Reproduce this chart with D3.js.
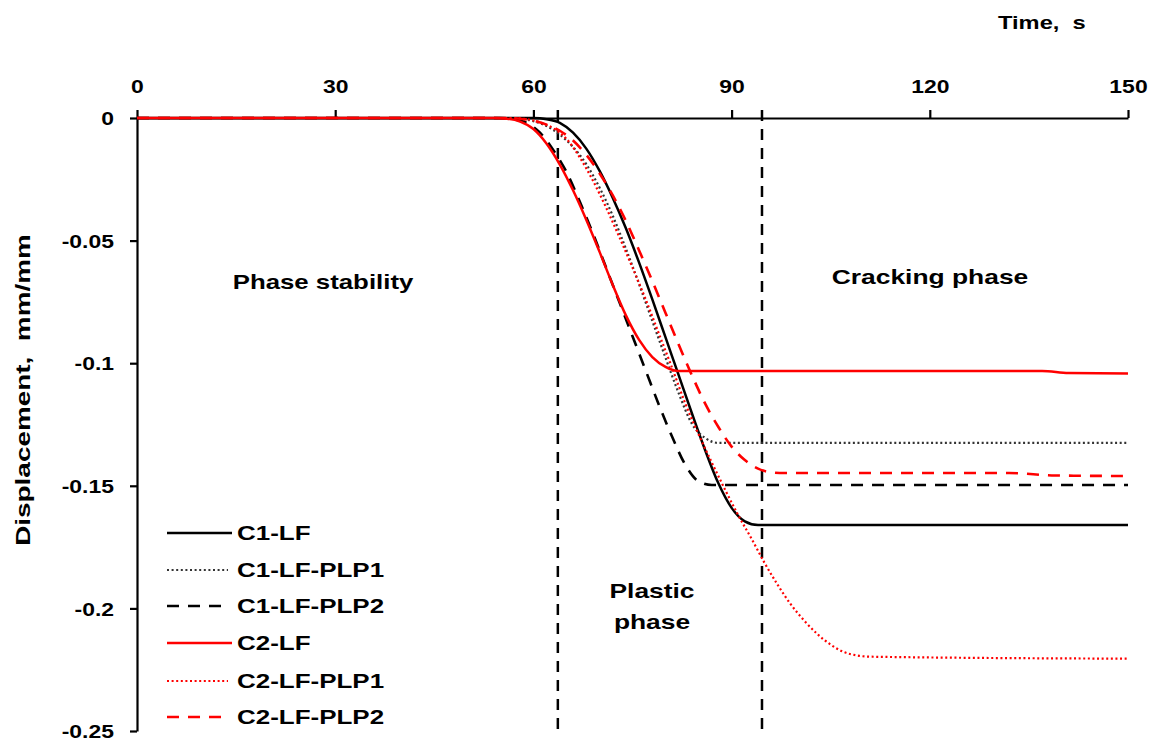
<!DOCTYPE html>
<html>
<head>
<meta charset="utf-8">
<script src="https://cdn.jsdelivr.net/npm/d3@7"></script>
<style>
  html, body { margin: 0; padding: 0; background: #fff; }
  svg { display: block; }
  text { font-family: "Liberation Sans", Arial, sans-serif; font-weight: bold; fill: #000; }
</style>
</head>
<body>
<svg id="chart" width="1161" height="742"></svg>
<script>
// ---------- data ----------
const xTicks = [0, 30, 60, 90, 120, 150];
const yTicks = [0, -0.05, -0.1, -0.15, -0.2, -0.25];
const yTickLabels = ["0", "-0.05", "-0.1", "-0.15", "-0.2", "-0.25"];
const seriesNames = ["C1-LF", "C1-LF-PLP1", "C1-LF-PLP2", "C2-LF", "C2-LF-PLP1", "C2-LF-PLP2"];

const c1lfT = [0, 55, 60, 62, 64, 66, 68, 70, 72, 74, 76, 78, 80, 82, 84, 86, 88, 90, 92, 94, 150];
const c1lfD = [0, 0, 0, -0.0005, -0.002, -0.006, -0.0125, -0.0215, -0.0325, -0.045, -0.059, -0.074, -0.0895, -0.105, -0.1205, -0.1355, -0.149, -0.159, -0.1645, -0.166, -0.166];

const c1plp1T = [0, 56, 58, 60, 62, 64, 66, 68, 70, 72, 74, 76, 78, 80, 82, 84, 86, 88, 150];
const c1plp1D = [0, 0, -0.0003, -0.0013, -0.0033, -0.0068, -0.0118, -0.0188, -0.0283, -0.0398, -0.0533, -0.0678, -0.0828, -0.0978, -0.1123, -0.1248, -0.1305, -0.1325, -0.1325];

const c1plp2T = [0, 55, 57, 59, 61, 63, 65, 67, 69, 71, 73, 75, 77, 79, 81, 83, 85, 87, 150];
const c1plp2D = [0, 0, -0.0005, -0.002, -0.006, -0.013, -0.022, -0.034, -0.047, -0.061, -0.075, -0.089, -0.103, -0.117, -0.130, -0.1415, -0.1482, -0.1497, -0.1497];

const c2lfT = [0, 54, 56, 58, 60, 62, 64, 66, 68, 70, 72, 74, 76, 78, 80, 82, 137, 141, 150];
const c2lfD = [0, 0, -0.0003, -0.0015, -0.0045, -0.0105, -0.019, -0.0295, -0.0415, -0.0545, -0.068, -0.0805, -0.0905, -0.0975, -0.1015, -0.1032, -0.1032, -0.104, -0.1042];

const c2plp1T = [0, 57, 59, 61, 63, 65, 67, 69, 71, 73, 75, 77, 79, 81, 83, 85, 87, 89, 91, 93, 95, 97, 99, 101, 103, 105, 107, 109, 111, 150];
const c2plp1D = [0, 0, -0.0005, -0.0018, -0.0042, -0.0085, -0.016, -0.0255, -0.0365, -0.0485, -0.061, -0.074, -0.088, -0.102, -0.1165, -0.129, -0.1405, -0.1515, -0.162, -0.1715, -0.1815, -0.1905, -0.1985, -0.205, -0.2105, -0.2148, -0.2178, -0.2192, -0.2197, -0.2205];

const c2plp2T = [0, 56, 58, 60, 62, 64, 66, 68, 70, 72, 74, 76, 78, 80, 82, 84, 86, 88, 90, 92, 94, 96, 98, 132, 139, 150];
const c2plp2D = [0, 0, -0.0003, -0.0011, -0.0027, -0.0052, -0.0092, -0.015, -0.0225, -0.0315, -0.042, -0.054, -0.0665, -0.0795, -0.0925, -0.105, -0.1165, -0.126, -0.134, -0.1395, -0.143, -0.1445, -0.1448, -0.1448, -0.1458, -0.146];

const phaseBoundaries = [63.7, 94.6];

// ---------- layout ----------
const svg = d3.select("#chart");
const x = d3.scaleLinear().domain([0, 150]).range([137, 1128]);
const y = d3.scaleLinear().domain([-0.25, 0]).range([731, 118]);
const SX = 1.3;  // horizontal text stretch to mimic the reference font
const TSX = 1.24;

const styles = [
  { color: "#000", width: 2.5, dash: null },
  { color: "#333", width: 2.2, dash: "2,2.6" },
  { color: "#000", width: 2.6, dash: "12,9" },
  { color: "#ff0000", width: 2.5, dash: null },
  { color: "#ff0000", width: 2.2, dash: "2,2.6" },
  { color: "#ff0000", width: 2.6, dash: "12,9" }
];
const seriesT = [c1lfT, c1plp1T, c1plp2T, c2lfT, c2plp1T, c2plp2T];
const seriesD = [c1lfD, c1plp1D, c1plp2D, c2lfD, c2plp1D, c2plp2D];

// ---------- axes ----------
const xAxis = svg.append("g")
  .attr("transform", `translate(0,${y(0)})`)
  .call(d3.axisTop(x).tickValues(xTicks).tickSize(8).tickSizeOuter(0).tickFormat(d3.format("d")));
xAxis.select(".domain").attr("stroke", "#000").attr("stroke-width", 2.2);
xAxis.selectAll(".tick line").attr("stroke", "#000").attr("stroke-width", 2.2);
xAxis.selectAll(".tick text")
  .attr("y", -25).attr("dy", "0").attr("font-size", 18.5)
  .attr("transform", `scale(${TSX},1)`);

const yAxis = svg.append("g")
  .attr("transform", `translate(${x(0)},0)`)
  .call(d3.axisLeft(y).tickValues(yTicks).tickSize(7).tickSizeOuter(0)
    .tickFormat((d, i) => yTickLabels[i]));
yAxis.select(".domain").attr("stroke", "#000").attr("stroke-width", 2.2);
yAxis.selectAll(".tick line").attr("stroke", "#000").attr("stroke-width", 2.2);
yAxis.selectAll(".tick text")
  .attr("x", -23 / TSX).attr("dy", "0.36em").attr("font-size", 18.5)
  .attr("transform", `scale(${TSX},1)`);
svg.selectAll(".tick text").attr("font-family", '"Liberation Sans", Arial, sans-serif').attr("font-weight", "bold");

// ---------- phase boundary lines ----------
svg.append("g").selectAll("line").data(phaseBoundaries).join("line")
  .attr("x1", d => x(d)).attr("x2", d => x(d))
  .attr("y1", y(0) - 8).attr("y2", y(-0.25) + 4)
  .attr("stroke", "#000").attr("stroke-width", 2.5)
  .attr("stroke-dasharray", "11,8");

// ---------- series ----------
const line = d3.line().x(d => x(d[0])).y(d => y(d[1])).curve(d3.curveMonotoneX);
seriesNames.forEach((name, i) => {
  const pts = seriesT[i].map((t, k) => [t, seriesD[i][k]]);
  svg.append("path").datum(pts)
    .attr("d", line)
    .attr("fill", "none")
    .attr("stroke", styles[i].color)
    .attr("stroke-width", styles[i].width)
    .attr("stroke-dasharray", styles[i].dash);
});

// ---------- texts ----------
function label(txt, px, py, size, anchor, sx) {
  svg.append("text")
    .attr("transform", `translate(${px},${py}) scale(${sx || SX},1)`)
    .attr("text-anchor", anchor || "middle")
    .attr("font-size", size)
    .style("white-space", "pre")
    .text(txt);
}
label("Time,  s", 998, 29, 18.5, "start", 1.28);
label("Phase stability", 323, 289, 20, "middle", 1.29);
label("Cracking phase", 930, 284, 20.3, "middle", 1.3);
label("Plastic", 652, 598, 20.3);
label("phase", 652, 629, 20.3);

svg.append("text")
  .attr("transform", `translate(30,390) rotate(-90) scale(1.33,1)`)
  .attr("text-anchor", "middle")
  .attr("font-size", 21)
  .style("white-space", "pre")
  .text("Displacement,  mm/mm");

// ---------- legend ----------
const legendY = [533, 570, 606, 643, 681, 717];
const lg = svg.append("g");
seriesNames.forEach((name, i) => {
  lg.append("line")
    .attr("x1", 167).attr("x2", styles[i].dash ? 228 : 232)
    .attr("y1", legendY[i]).attr("y2", legendY[i])
    .attr("stroke", styles[i].color)
    .attr("stroke-width", styles[i].width)
    .attr("stroke-dasharray", styles[i].dash);
  lg.append("text")
    .attr("transform", `translate(237,${legendY[i]}) scale(1.28,1)`)
    .attr("dy", "0.36em")
    .attr("font-size", 20.3)
    .text(name);
});
</script>
</body>
</html>
